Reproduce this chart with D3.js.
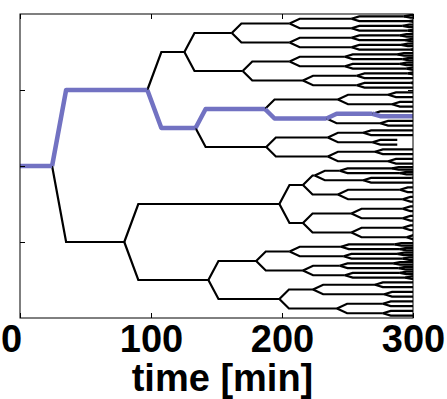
<!DOCTYPE html>
<html>
<head>
<meta charset="utf-8">
<script src="https://cdn.jsdelivr.net/npm/d3@7"></script>
<style>
  body { margin: 0; background: #fff; }
  svg { display: block; }
</style>
</head>
<body>
<div id="chart"></div>
<script>
// ticks
const xTicks = [0, 100, 200, 300]
const yTicks = [0.25, 0.5, 0.75]

// division times [min] per generation, listed top to bottom (null = no division before 300)
const gen0Div = [24.5]
const gen1Div = [97.2, 79.6]
const gen2Div = [125.5, 134, 198, 143.8]
const gen3Div = [161.7, 170, 187, 188, 216, 216, 180.3, 198]
const gen4Div = [205.8, 205.8, 205.8, 216, 242.7, 234, 235, 235,
                 225, 242.7, 253, 253, 205.8, 216, 223.7, 242]
const gen5Div = [253, 253, 253, 253, 248, 248, 257, 257,
                 281, 284, 269, 275, 262, 269, 271, 281,
                 244, 262, 290, 292, 292, 292, 292, 295,
                 245, 247, 244, 248, 271, 278, 277, 277]
const gen6Div = [293, 297, 292, 296, 290, 294, 291, 298,
                 288, 292, 290, 295, 296, null, 298, null,
                 null, null, null, null, null, null, null, null,
                 null, null, null, null, null, null, null, null,
                 284, 290, 299, null, null, null, null, null,
                 null, null, null, null, null, null, null, null,
                 286, 290, 288, 292, 285, 289, 290, 294,
                 null, null, null, null, null, null, null, null]
// minutes a daughter takes to move to its own row after a division, by generation of the mother
const transit = [10.7, 10.7, 7.7, 7.3, 7.7, 6, 5]
// highlighted lineage: 0 = upper daughter, 1 = lower daughter
const lineage = [0, 1, 0, 1, 0, 1]
// cells whose track is lost (generation 6 index) and when
const lostCells = [26, 27]
const lostTime = 288

const divs = [gen0Div, gen1Div, gen2Div, gen3Div, gen4Div, gen5Div, gen6Div]
const tEnd = 300

const W = 447, H = 399
const margin = { top: 14, right: 34, bottom: 81, left: 20 }
const width = W - margin.left - margin.right
const height = H - margin.top - margin.bottom

const svg = d3.select('#chart').append('svg')
  .attr('width', W)
  .attr('height', H)

const g = svg.append('g')
  .attr('transform', `translate(${margin.left},${margin.top})`)

const x = d3.scaleLinear().domain([0, tEnd]).range([0, width])
const y = d3.scaleLinear().domain([0, 1]).range([0, height])

g.append('clipPath').attr('id', 'clip')
  .append('rect').attr('width', width).attr('height', height)

// build the cells
const cells = []
const rowOf = (gen, i) => (2 * i + 1) / Math.pow(2, gen + 1)
divs.forEach((arr, gen) => {
  arr.forEach((d, i) => {
    let start, parentRow
    if (gen === 0) {
      start = 0
      parentRow = rowOf(0, 0)
    } else {
      const pi = Math.floor(i / 2)
      const pd = divs[gen - 1][pi]
      if (pd == null || pd >= tEnd) return
      start = pd
      parentRow = rowOf(gen - 1, pi)
    }
    let end = d == null ? tEnd : Math.min(d, tEnd)
    if (gen === 6 && lostCells.includes(i)) end = lostTime
    cells.push({ gen, i, start, parentRow, row: rowOf(gen, i), end, tr: gen === 0 ? 0 : transit[gen - 1] })
  })
})
// generation 7 daughters of cells dividing before the end
gen6Div.forEach((d, i) => {
  if (d == null || d >= tEnd) return
  ;[0, 1].forEach(k => {
    cells.push({ gen: 7, i: 2 * i + k, start: d, parentRow: rowOf(6, i), row: rowOf(7, 2 * i + k), end: tEnd, tr: transit[6] })
  })
})

const cellPath = c => {
  if (c.gen === 0) return `M${x(0)},${y(c.row)}L${x(c.end)},${y(c.row)}`
  return `M${x(c.start)},${y(c.parentRow)}L${x(c.start + c.tr)},${y(c.row)}L${x(Math.max(c.end, c.start + c.tr))},${y(c.row)}`
}

const plot = g.append('g').attr('clip-path', 'url(#clip)')

plot.selectAll('path.cell')
  .data(cells)
  .enter()
  .append('path')
  .attr('class', 'cell')
  .attr('d', cellPath)
  .attr('fill', 'none')
  .attr('stroke', '#000')
  .attr('stroke-width', 2.2)
  .attr('stroke-linejoin', 'miter')

// highlighted lineage
let idx = 0
const hl = [cells.find(c => c.gen === 0)]
lineage.forEach((b, k) => {
  idx = idx * 2 + b
  const c = cells.find(c => c.gen === k + 1 && c.i === idx)
  if (c) hl.push(c)
})
plot.selectAll('path.hl')
  .data(hl)
  .enter()
  .append('path')
  .attr('class', 'hl')
  .attr('d', cellPath)
  .attr('fill', 'none')
  .attr('stroke', '#7272c2')
  .attr('stroke-width', 4.5)
  .attr('stroke-linejoin', 'round')

// frame
g.append('rect')
  .attr('width', width)
  .attr('height', height)
  .attr('fill', 'none')
  .attr('stroke', '#000')
  .attr('stroke-width', 1)

// axes (ticks point inward)
const xAxis = g.append('g')
  .attr('transform', `translate(0,${height})`)
  .call(d3.axisBottom(x).tickValues(xTicks).tickSizeInner(-5).tickSizeOuter(0).tickPadding(7))
xAxis.select('.domain').remove()
xAxis.selectAll('text')
  .attr('font-family', 'Liberation Sans, Arial, sans-serif')
  .attr('font-size', 38)
  .attr('font-weight', 'bold')
  .attr('fill', '#000')
  .attr('dx', d => d === 0 ? -9 : 0)

const xTop = g.append('g')
  .call(d3.axisTop(x).tickValues(xTicks).tickSizeInner(-5).tickSizeOuter(0).tickFormat(''))
xTop.select('.domain').remove()

const yLeft = g.append('g')
  .call(d3.axisLeft(y).tickValues(yTicks).tickSizeInner(-5).tickSizeOuter(0).tickFormat(''))
yLeft.select('.domain').remove()

const yRight = g.append('g')
  .attr('transform', `translate(${width},0)`)
  .call(d3.axisRight(y).tickValues(yTicks).tickSizeInner(-5).tickSizeOuter(0).tickFormat(''))
yRight.select('.domain').remove()

// axis label
g.append('text')
  .attr('x', width / 2 + 6)
  .attr('y', height + 73)
  .attr('text-anchor', 'middle')
  .attr('font-family', 'Liberation Sans, Arial, sans-serif')
  .attr('font-size', 38)
  .attr('font-weight', 'bold')
  .text('time [min]')
</script>
</body>
</html>
